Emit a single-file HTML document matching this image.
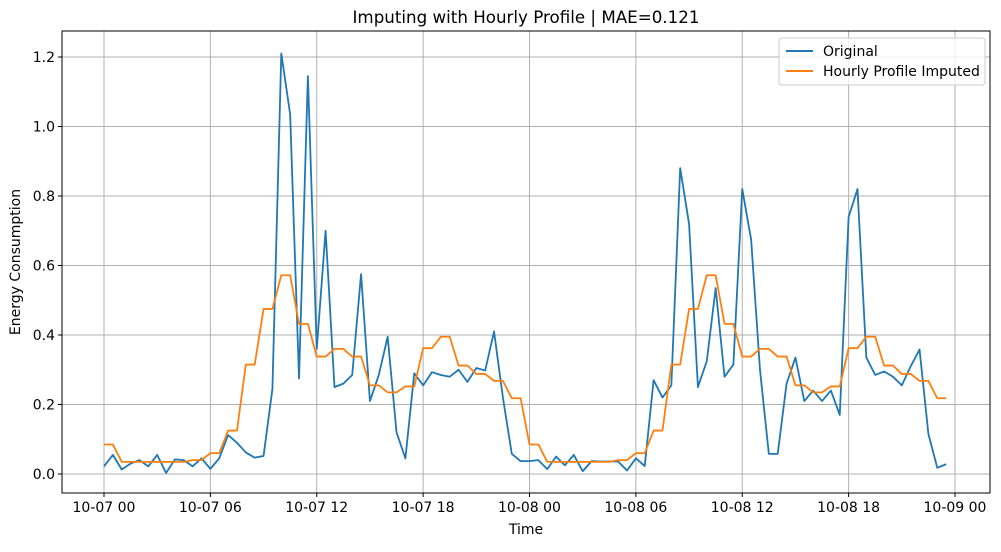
<!DOCTYPE html>
<html><head><meta charset="utf-8"><style>
body{margin:0;background:#fff;font-family:"Liberation Sans","DejaVu Sans",sans-serif;}
svg text{font-family:"DejaVu Sans","Liberation Sans",sans-serif;}
</style></head><body>
<svg id="chart" width="1001" height="547" xmlns="http://www.w3.org/2000/svg">
<rect width="1001" height="547" fill="#fff"/>
<g id="grid"></g>
<g id="series"></g>
<rect x="62" y="31" width="928" height="462" fill="none" stroke="#000" stroke-width="1"/>
<g id="ticks"></g>
<text x="526" y="23" font-size="16.7" text-anchor="middle">Imputing with Hourly Profile | MAE=0.121</text>
<text x="526" y="534" font-size="14" text-anchor="middle">Time</text>
<text x="20" y="262" font-size="14" text-anchor="middle" transform="rotate(-90 20 262)">Energy Consumption</text>
<g>
<rect x="779" y="38" width="206" height="47" rx="3" fill="#fff" fill-opacity="0.8" stroke="#ccc"/>
<line x1="786" y1="51" x2="813" y2="51" stroke="#1f77b4" stroke-width="2"/>
<text x="823" y="56" font-size="14">Original</text>
<line x1="786" y1="71" x2="813" y2="71" stroke="#ff7f0e" stroke-width="2"/>
<text x="823" y="76" font-size="14">Hourly Profile Imputed</text>
</g>
</svg>
<script>
const original=[0.022,0.055,0.013,0.03,0.04,0.022,0.055,0.003,0.042,0.04,0.022,0.045,0.015,0.045,0.112,0.09,0.062,0.047,0.052,0.245,1.21,1.035,0.275,1.145,0.36,0.70,0.25,0.26,0.285,0.575,0.21,0.285,0.395,0.12,0.045,0.29,0.255,0.293,0.285,0.28,0.30,0.265,0.305,0.298,0.41,0.22,0.058,0.037,0.037,0.04,0.014,0.05,0.025,0.055,0.008,0.037,0.036,0.036,0.036,0.01,0.045,0.023,0.27,0.22,0.255,0.88,0.72,0.25,0.325,0.535,0.28,0.315,0.82,0.675,0.30,0.058,0.058,0.26,0.335,0.21,0.24,0.21,0.24,0.17,0.74,0.82,0.335,0.285,0.295,0.28,0.255,0.31,0.358,0.115,0.018,0.028];
const hourlyProfile=[0.085,0.035,0.035,0.035,0.035,0.04,0.06,0.125,0.315,0.475,0.572,0.432,0.338,0.36,0.338,0.255,0.235,0.252,0.362,0.395,0.312,0.288,0.268,0.218];
const yTicks=[0,0.2,0.4,0.6,0.8,1.0,1.2];
const yTickLabels=["0.0","0.2","0.4","0.6","0.8","1.0","1.2"];
const xTickIdx=[0,12,24,36,48,60,72,84,96];
const xTickLabels=["10-07 00","10-07 06","10-07 12","10-07 18","10-08 00","10-08 06","10-08 12","10-08 18","10-09 00"];
const NS="http://www.w3.org/2000/svg";
const xs=i=>104+i*(851/96);
const ys=v=>474-v*347.5;
const grid=document.getElementById('grid'),ticks=document.getElementById('ticks'),series=document.getElementById('series');
function mk(tag,attrs,parent){const e=document.createElementNS(NS,tag);for(const k in attrs)e.setAttribute(k,attrs[k]);parent.appendChild(e);return e;}
yTicks.forEach((v,i)=>{const y=ys(v);
 const g=mk('line',{x1:62,x2:990,y1:y,y2:y,stroke:'#b0b0b0','stroke-width':1},grid);
 
 
 mk('line',{x1:58,x2:62,y1:y,y2:y,stroke:'#000'},ticks);
 const t=mk('text',{x:55,y:y+5,'font-size':14,'text-anchor':'end'},ticks);t.textContent=yTickLabels[i];
 
 
});
xTickIdx.forEach((idx,i)=>{const x=xs(idx);
 const g=mk('line',{x1:x,x2:x,y1:31,y2:493,stroke:'#b0b0b0','stroke-width':1},grid);
 
 
 mk('line',{x1:x,x2:x,y1:493,y2:497,stroke:'#000'},ticks);
 const t=mk('text',{x:x,y:512,'font-size':14,'text-anchor':'middle'},ticks);t.textContent=xTickLabels[i];
 
 
});
const imputed=original.map((_,i)=>hourlyProfile[Math.floor(i/2)%24]);
const p1=mk('polyline',{points:original.map((v,i)=>xs(i)+','+ys(v)).join(' '),fill:'none',stroke:'#1f77b4','stroke-width':1.8,'stroke-linejoin':'round'},series);


const p2=mk('polyline',{points:imputed.map((v,i)=>xs(i)+','+ys(v)).join(' '),fill:'none',stroke:'#ff7f0e','stroke-width':1.8,'stroke-linejoin':'round'},series);


</script>
</body></html>
